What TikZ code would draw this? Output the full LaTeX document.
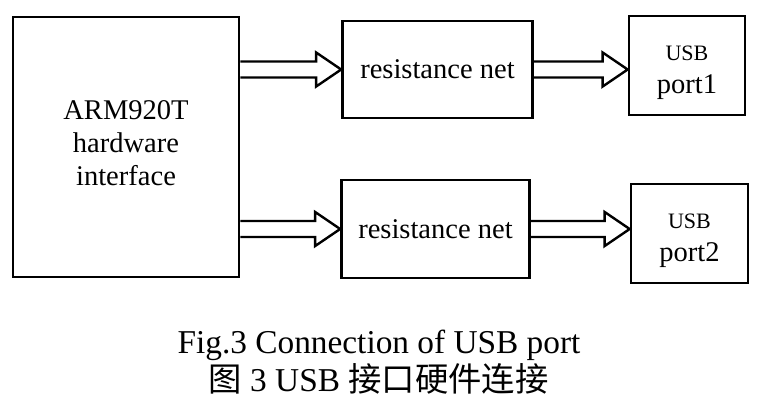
\documentclass[tikz,border=0pt]{standalone}
\usepackage{fontspec}
\setmainfont{Liberation Serif}
\newfontfamily\cjk{Noto Sans CJK SC}
\usetikzlibrary{calc}

% hollow block arrow between two points on one level
\newcommand{\fatarrow}[2]{%
  \draw[hollowarrow] let \p1=(#1), \p2=(#2) in
    (\x1,\y1+6pt) -- (\x2-18.75pt,\y1+6pt) -- (\x2-18.75pt,\y1+12.75pt)
    -- (\x2,\y1) -- (\x2-18.75pt,\y1-12.75pt) -- (\x2-18.75pt,\y1-6pt)
    -- (\x1,\y1-6pt);}

\begin{document}
\begin{tikzpicture}[x=0.75pt,y=-0.75pt,
    block/.style={draw, line width=2pt, inner sep=0pt},
    hollowarrow/.style={line width=1.8pt, line join=miter},
    bigfont/.style={font=\fontsize{21.4}{24.75}\selectfont}]
    \useasboundingbox (0,0) rectangle (760,419);

    % Boxes
    \node[block, minimum width=169.5pt, minimum height=195pt] (arm) at (126,147) {};
    \node[bigfont, align=center] (armtxt) at (126,143) {ARM920T\\hardware\\interface};

    \node[block, bigfont, minimum width=142.5pt, minimum height=72.75pt] (res1) at (437.5,69.5) {resistance net};
    \node[block, bigfont, minimum width=141pt, minimum height=73.5pt] (res2) at (435.5,229) {resistance net};

    \node[block, minimum width=87pt, minimum height=74.25pt] (usb1) at (687,65.5) {};
    \node[bigfont, align=center] (usb1txt) at (687,73)
        {{\fontsize{16.5}{18}\selectfont USB}\\port1};
    \node[block, minimum width=87.75pt, minimum height=74.25pt] (usb2) at (689.5,233.5) {};
    \node[bigfont, align=center] (usb2txt) at (689.5,241)
        {{\fontsize{16.5}{18}\selectfont USB}\\port2};

    % Arrows
    \foreach \r/\u in {res1/usb1, res2/usb2} {
        \fatarrow{arm.east |- \r.west}{\r.west}
        \fatarrow{\r.east}{\u.west |- \r.east}
    }

    % Caption
    \node[font=\fontsize{25}{29}\selectfont] (capen) at (379,345) {Fig.3 Connection of USB port};
    \node[font=\fontsize{25}{29}\selectfont] (capzh) at (378.5,379) {{\cjk 图} 3 USB {\cjk 接口硬件连接}};

\end{tikzpicture}
\end{document}
